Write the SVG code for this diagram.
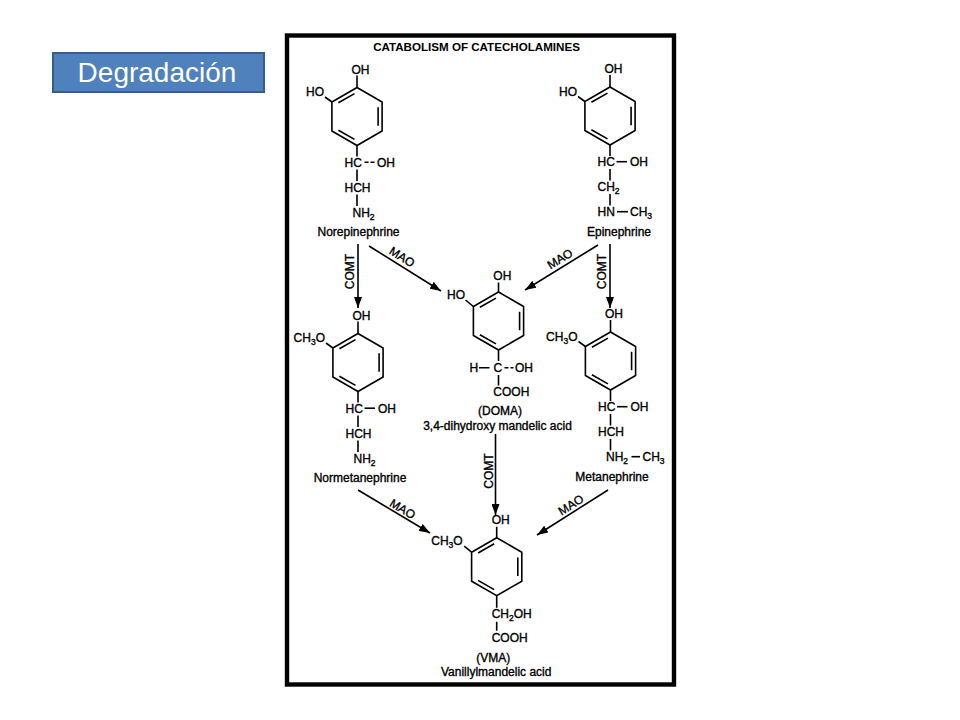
<svg xmlns="http://www.w3.org/2000/svg" xmlns:xlink="http://www.w3.org/1999/xlink" width="960" height="720" viewBox="0 0 960 720">
<style>
.t{font-family:"Liberation Sans",Arial,Helvetica,sans-serif;font-size:12px;fill:#000;stroke:#000;stroke-width:0.35}
.s{font-size:8.5px}
.m{text-anchor:middle}
.e{text-anchor:end}
.b{stroke:#000;stroke-width:1.6;fill:none}
.d{stroke-dasharray:4 2}
.c{stroke:#000;stroke-width:1.6;fill:none;marker-end:url(#ah)}
.title{font-family:"Liberation Sans",Arial,Helvetica,sans-serif;font-size:11.6px;font-weight:bold;fill:#000}
</style>
<defs>
<marker id="ah" markerUnits="userSpaceOnUse" markerWidth="11" markerHeight="8" refX="11" refY="4" orient="auto">
<path d="M0,0 L11,4 L0,8 z" fill="#000"/>
</marker>
<g id="ring">
<polygon class="b" points="0,-29 25.1,-14.5 25.1,14.5 0,29 -25.1,14.5 -25.1,-14.5"/>
<path class="b" d="M-2.5,-22.9 L-18.6,-13.7 M21.1,-9.3 V9.3 M-2.5,22.9 L-18.6,13.7"/>
</g>
</defs>
<rect width="960" height="720" fill="#fff"/>

<g id="button">
<rect x="53" y="53" width="211" height="39" fill="#4F81BD" stroke="#385D8A" stroke-width="2"/>
<text x="157" y="81.5" text-anchor="middle" font-family="Liberation Sans, Arial, sans-serif" font-size="28" fill="#fff">Degradación</text>
</g>

<g id="frame">
<rect x="287" y="35.5" width="387" height="649" fill="#fff" stroke="#000" stroke-width="4.4"/>
<text class="title" x="476.5" y="51" text-anchor="middle">CATABOLISM OF CATECHOLAMINES</text>
</g>

<g id="norepinephrine" transform="translate(357,116.5)">
<use xlink:href="#ring"/>
<path class="b" d="M0,-29 V-41 M-32,-19.5 L-25.1,-14.5 M0,29 V40 M0,53 V64.5 M0,78 V89.5"/>
<text class="t" x="-5.5" y="-43">OH</text>
<text class="t e" x="-33" y="-20.5">HO</text>
<text class="t" x="-12.5" y="50">HC</text>
<path class="b d" d="M7.5,45.7 H17.5"/>
<text class="t" x="20" y="50">OH</text>
<text class="t" x="-12.5" y="75">HCH</text>
<text class="t" x="-4.5" y="100">NH<tspan class="s" dy="3">2</tspan></text>
<text class="t m" x="1.5" y="119.5">Norepinephrine</text>
</g>

<g id="epinephrine" transform="translate(610,116)">
<use xlink:href="#ring"/>
<path class="b" d="M0,-29 V-41 M-32,-19.5 L-25.1,-14.5 M0,29 V40 M0,53 V64.5 M0,78 V89.5"/>
<text class="t" x="-5.5" y="-43">OH</text>
<text class="t e" x="-33" y="-20.5">HO</text>
<text class="t" x="-12.5" y="50">HC</text>
<path class="b" d="M6.5,45.7 H17"/>
<text class="t" x="20" y="50">OH</text>
<text class="t" x="-12.5" y="75">CH<tspan class="s" dy="3">2</tspan></text>
<text class="t" x="-12.5" y="100">HN</text>
<path class="b" d="M7,95.7 H18"/>
<text class="t" x="20" y="100">CH<tspan class="s" dy="3">3</tspan></text>
<text class="t m" x="9" y="119.5">Epinephrine</text>
</g>

<g id="doma" transform="translate(498.5,321)">
<use xlink:href="#ring"/>
<path class="b" d="M0,-29 V-38.5 M-33,-21 L-25.1,-14.5 M0,29 V40 M0,54 V64.5 M-19.5,46.7 H-9"/>
<path class="b d" d="M6,46.7 H15"/>
<text class="t" x="-5.2" y="-40.7">OH</text>
<text class="t e" x="-33.5" y="-21.7">HO</text>
<text class="t" x="-29" y="51">H</text>
<text class="t" x="-5" y="51">C</text>
<text class="t" x="16.5" y="51">OH</text>
<text class="t" x="-5.2" y="74.5">COOH</text>
<text class="t m" x="1.5" y="94">(DOMA)</text>
<text class="t m" x="-1" y="108.5">3,4-dihydroxy mandelic acid</text>
</g>

<g id="normetanephrine" transform="translate(358,362.5)">
<use xlink:href="#ring"/>
<path class="b" d="M0,-29 V-41 M-32,-19.5 L-25.1,-14.5 M0,29 V40 M0,53 V64.5 M0,78 V89.5"/>
<text class="t" x="-5.5" y="-43">OH</text>
<text class="t e" x="-33" y="-20.5">CH<tspan class="s" dy="3">3</tspan><tspan dy="-3">O</tspan></text>
<text class="t" x="-12.5" y="50">HC</text>
<path class="b" d="M6.5,45.7 H17"/>
<text class="t" x="20" y="50">OH</text>
<text class="t" x="-12.5" y="75">HCH</text>
<text class="t" x="-4.5" y="100">NH<tspan class="s" dy="3">2</tspan></text>
<text class="t m" x="2" y="119.5">Normetanephrine</text>
</g>

<g id="metanephrine" transform="translate(610.5,361)">
<use xlink:href="#ring"/>
<path class="b" d="M0,-29 V-41 M-32,-19.5 L-25.1,-14.5 M0,29 V40 M0,53 V64.5 M0,78 V89.5"/>
<text class="t" x="-5.5" y="-43">OH</text>
<text class="t e" x="-33" y="-20.5">CH<tspan class="s" dy="3">3</tspan><tspan dy="-3">O</tspan></text>
<text class="t" x="-12.5" y="50">HC</text>
<path class="b" d="M6.5,45.7 H17"/>
<text class="t" x="20" y="50">OH</text>
<text class="t" x="-12.5" y="75">HCH</text>
<text class="t" x="-4.5" y="100">NH<tspan class="s" dy="3">2</tspan></text>
<path class="b" d="M21,95.7 H29.5"/>
<text class="t" x="32" y="100">CH<tspan class="s" dy="3">3</tspan></text>
<text class="t m" x="1.5" y="119.5">Metanephrine</text>
</g>

<g id="vma" transform="translate(496.7,566.7)">
<use xlink:href="#ring"/>
<path class="b" d="M0,-29 V-40 M-32.5,-20.5 L-25.1,-14.5 M0,29 V41 M0,55 V64"/>
<text class="t" x="-5" y="-42.4">OH</text>
<text class="t e" x="-34" y="-21.7">CH<tspan class="s" dy="3">3</tspan><tspan dy="-3">O</tspan></text>
<text class="t" x="-5" y="51.6">CH<tspan class="s" dy="3">2</tspan><tspan dy="-3">OH</tspan></text>
<text class="t" x="-5" y="75">COOH</text>
<text class="t m" x="-3.4" y="95">(VMA)</text>
<text class="t m" x="-0.5" y="109.5">Vanillylmandelic acid</text>
</g>

<g id="connectors">
<path class="c" d="M358,244 V308"/>
<path class="c" d="M369,246 L441,291"/>
<path class="c" d="M598,245 L525,290"/>
<path class="c" d="M610,244 V308"/>
<path class="c" d="M495.5,434 V515"/>
<path class="c" d="M358,490 L430,533"/>
<path class="c" d="M608,490 L537,535"/>
<text class="t m" transform="translate(350,271.5) rotate(-90)" y="4">COMT</text>
<text class="t m" transform="translate(602,271.5) rotate(-90)" y="4">COMT</text>
<text class="t m" transform="translate(488.5,471) rotate(-90)" y="4">COMT</text>
<text class="t m" transform="translate(402,257) rotate(32)" y="4">MAO</text>
<text class="t m" transform="translate(560,259) rotate(-31.6)" y="4">MAO</text>
<text class="t m" transform="translate(402.5,509) rotate(31)" y="4">MAO</text>
<text class="t m" transform="translate(571,505) rotate(-32)" y="4">MAO</text>
</g>
</svg>
